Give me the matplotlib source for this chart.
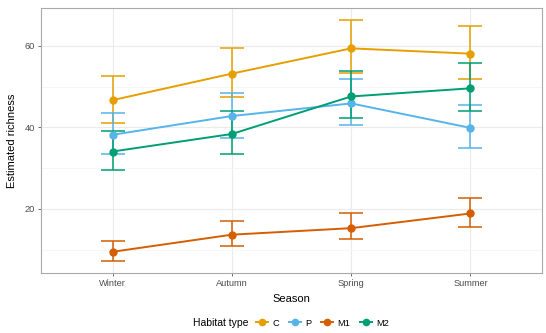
import numpy as np
import matplotlib
matplotlib.use("Agg")
from matplotlib import pyplot as plt
from matplotlib.lines import Line2D

plt.rcParams['font.family'] = ['Liberation Sans', 'DejaVu Sans']

# data
seasons = ["Winter", "Autumn", "Spring", "Summer"]
habitats = ["C", "P", "M1", "M2"]
colors = ["#E69F00", "#56B4E9", "#D55E00", "#009E73"]

rich_C = [46.7, 53.2, 59.4, 58.1]
low_C = [41.1, 47.5, 53.4, 52.0]
high_C = [52.6, 59.6, 66.3, 64.9]

rich_P = [38.2, 42.8, 45.9, 39.9]
low_P = [33.4, 37.4, 40.6, 35.0]
high_P = [43.6, 48.5, 52.0, 45.4]

rich_M1 = [9.5, 13.7, 15.3, 18.9]
low_M1 = [7.2, 10.9, 12.6, 15.6]
high_M1 = [12.2, 17.0, 18.9, 22.7]

rich_M2 = [34.1, 38.4, 47.6, 49.6]
low_M2 = [29.5, 33.6, 42.3, 44.0]
high_M2 = [39.1, 44.0, 53.8, 55.9]

rich = [rich_C, rich_P, rich_M1, rich_M2]
low = [low_C, low_P, low_M1, low_M2]
high = [high_C, high_P, high_M1, high_M2]

fig = plt.figure(figsize=(5.46, 3.33), dpi=100)
ax = fig.add_axes([41 / 546, 1 - 273 / 333, 501 / 546, 265 / 333])

x = np.arange(1, len(seasons) + 1)
for r, lo, hi, c in zip(rich, low, high, colors):
    r = np.array(r)
    yerr = [r - np.array(lo), np.array(hi) - r]
    ax.errorbar(x, r, yerr=yerr, color=c, lw=1.4, elinewidth=1.1,
                capsize=8.5, capthick=1.1, marker="o", markersize=5, zorder=3)

ax.set_xlim(0.4, 4.6)
ax.set_ylim(4.3, 69.3)
ax.set_xticks(x)
ax.set_xticklabels(seasons)
ax.set_yticks([20, 40, 60])
ax.set_yticks([10, 30, 50], minor=True)
ax.grid(True, which="major", color="#EBEBEB", lw=0.8)
ax.grid(True, which="minor", axis="y", color="#F5F5F5", lw=0.6)
ax.set_axisbelow(True)
for s in ax.spines.values():
    s.set_color("#AAAAAA")
    s.set_linewidth(0.8)
ax.tick_params(which="major", length=2.5, width=0.6, color="#555555",
               labelsize=6.7, labelcolor="#4D4D4D", pad=2)
ax.tick_params(which="minor", length=0)
ax.set_xlabel("Season", fontsize=8, labelpad=4)
ax.set_ylabel("Estimated richness", fontsize=8, labelpad=5)

# legend along the bottom, title on the left
fig.text(193 / 546, 1 - 323 / 333, "Habitat type", fontsize=7.5,
         ha="left", va="center")
handles = [Line2D([], [], color=c, marker="o", markersize=4.5, lw=1.4)
           for c in colors]
fig.legend(handles, habitats, ncol=4, loc="center left",
           bbox_to_anchor=(256 / 546, 1 - 323 / 333), frameon=False,
           fontsize=6.7, handlelength=1.3, handletextpad=0.5,
           columnspacing=1.0, borderpad=0, borderaxespad=0)

fig.savefig("out.png", dpi=100)
